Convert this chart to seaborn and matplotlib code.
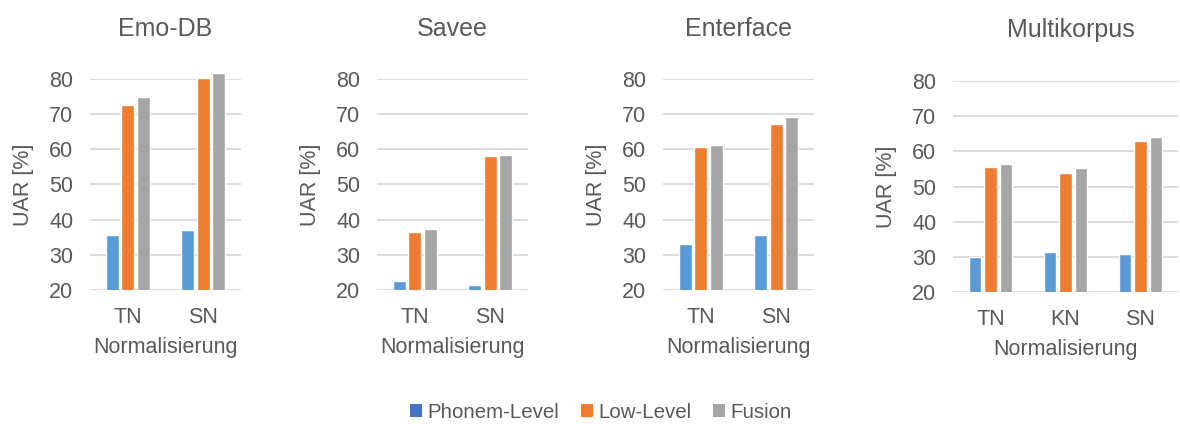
import matplotlib
matplotlib.use("Agg")
import matplotlib.pyplot as plt
from matplotlib.patches import Patch, Rectangle
import seaborn as sns
import pandas as pd

# Corpora and normalisation schemes
corpora = ["Emo-DB", "Savee", "Enterface", "Multikorpus"]
norms_two = ["TN", "SN"]
norms_three = ["TN", "KN", "SN"]
features = ["Phonem-Level", "Low-Level", "Fusion"]

# UAR [%] per feature set, one value per normalisation
emodb_phonem = [35.5, 37.1]
emodb_low = [72.6, 80.3]
emodb_fusion = [74.9, 81.8]

savee_phonem = [22.7, 21.3]
savee_low = [36.5, 58.0]
savee_fusion = [37.3, 58.5]

enterface_phonem = [33.2, 35.7]
enterface_low = [60.8, 67.3]
enterface_fusion = [61.2, 69.2]

multi_phonem = [30.0, 31.5, 30.8]
multi_low = [55.6, 53.8, 62.8]
multi_fusion = [56.4, 55.2, 64.1]

panels = [
    ("Emo-DB", norms_two, [emodb_phonem, emodb_low, emodb_fusion]),
    ("Savee", norms_two, [savee_phonem, savee_low, savee_fusion]),
    ("Enterface", norms_two, [enterface_phonem, enterface_low, enterface_fusion]),
    ("Multikorpus", norms_three, [multi_phonem, multi_low, multi_fusion]),
]

bar_colors = ["#5B9BD5", "#ED7D31", "#A5A5A5"]
legend_colors = ["#4472C4", "#ED7D31", "#A5A5A5"]
text_color = "#595959"
grid_color = "#D9D9D9"
fs = 15.5

sns.set_theme(style="white")
plt.rcParams["font.family"] = ["Liberation Sans", "DejaVu Sans"]
plt.rcParams["text.color"] = text_color
plt.rcParams["axes.labelcolor"] = text_color
plt.rcParams["xtick.color"] = text_color
plt.rcParams["ytick.color"] = text_color

W, H = 1180, 424
fig = plt.figure(figsize=(W / 100, H / 100), dpi=100)

# axes boxes in pixels: left, top, right, bottom
boxes = [
    (90, 79, 241, 290),
    (377, 79, 528, 290),
    (663, 79, 814, 290),
    (953, 81, 1178, 292),
]
title_pads = [31, 31, 31, 32]
title_x = [0.5, 0.5, 0.5, 0.524]

for (title, cats, series), (l, t, r, b), tpad, tx in zip(panels, boxes, title_pads, title_x):
    ax = fig.add_axes([l / W, (H - b) / H, (r - l) / W, (b - t) / H])
    rows = []
    for feat, vals in zip(features, series):
        for c, v in zip(cats, vals):
            rows.append({"Normalisierung": c, "Merkmale": feat, "UAR": v})
    df = pd.DataFrame(rows)
    sns.barplot(data=df, x="Normalisierung", y="UAR", hue="Merkmale",
                order=cats, hue_order=features, palette=bar_colors,
                width=0.62, gap=0.18, saturation=1, legend=False, ax=ax,
                zorder=3)
    # bars may rise slightly above the top gridline, so clip only at the bottom
    clip = Rectangle((0, 0), 1, 1.3, transform=ax.transAxes)
    for p in ax.patches:
        p.set_clip_path(clip)
    ax.set_ylim(20, 80)
    ax.set_yticks(range(20, 81, 10))
    ax.grid(axis="y", color=grid_color, linewidth=1.3, zorder=0)
    ax.set_axisbelow(True)
    for s in ax.spines.values():
        s.set_visible(False)
    ax.tick_params(axis="both", length=0, labelsize=fs)
    ax.tick_params(axis="y", pad=12)
    ax.tick_params(axis="x", pad=12.5)
    ax.set_ylabel("UAR [%]", fontsize=fs, labelpad=11)
    ax.set_xlabel("Normalisierung", fontsize=fs, labelpad=6.5)
    ax.set_title(title, fontsize=18, pad=tpad, x=tx, color=text_color)

handles = [Patch(facecolor=c, edgecolor="none") for c in legend_colors]
fig.legend(handles, features, loc="center", bbox_to_anchor=(0.509, 1 - 412 / H),
           ncol=3, frameon=False, fontsize=14.8, handlelength=0.6,
           handleheight=0.6, handletextpad=0.25, columnspacing=1.05)

fig.savefig("out.png", dpi=100)
